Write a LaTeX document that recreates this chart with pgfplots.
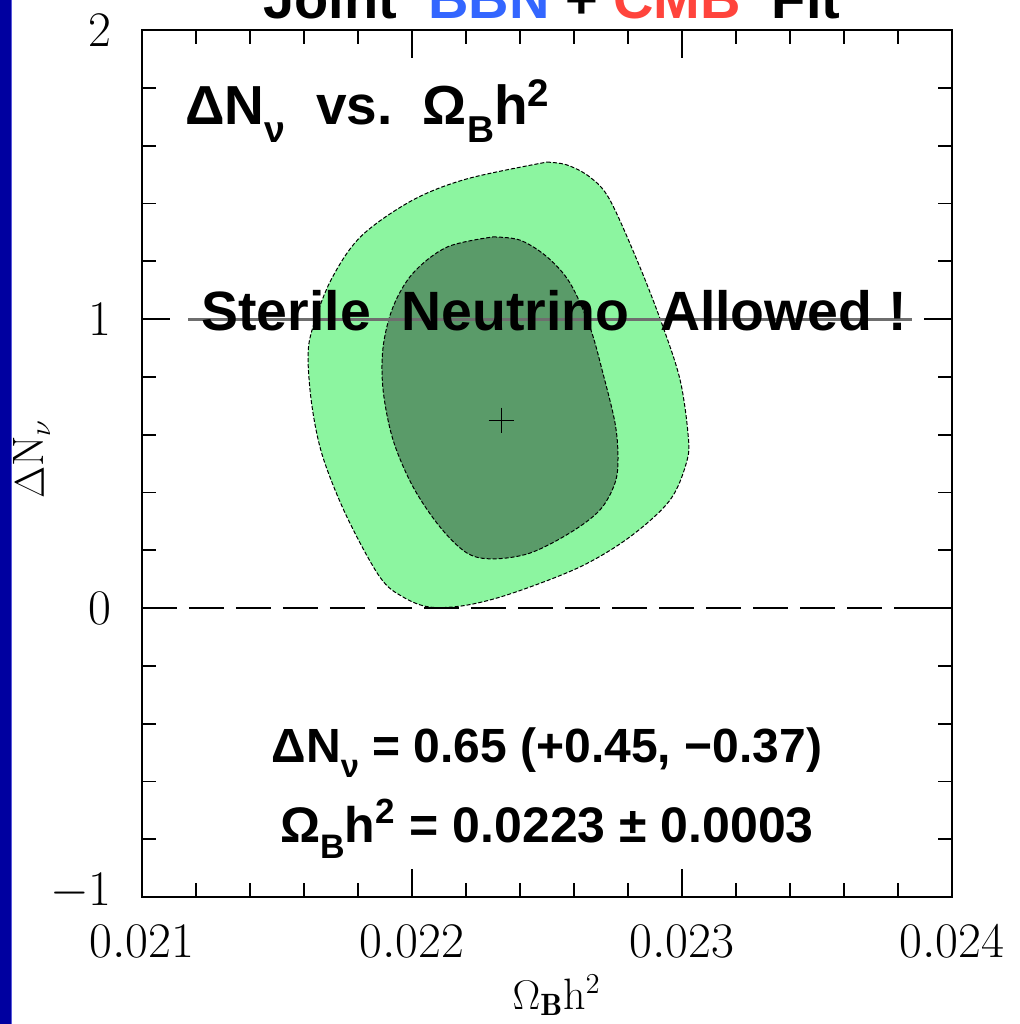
\documentclass[border=0pt]{standalone}
\usepackage{fontspec}
\usepackage{pgfplots}
\pgfplotsset{compat=1.18}
\newfontfamily\ab{Liberation Sans}
\definecolor{outerg}{RGB}{140,245,160}
\definecolor{innerg}{RGB}{90,155,105}
\definecolor{bbnblue}{RGB}{51,102,255}
\definecolor{cmbred}{RGB}{255,68,60}
\definecolor{slideblue}{RGB}{0,0,160}
\definecolor{slideedge}{RGB}{90,90,220}
\definecolor{linegray}{RGB}{110,110,110}
\newcommand{\lsub}[1]{\raisebox{-0.32em}{\fontsize{0.68\dimexpr\fontdimen6\font\relax}{1em}\selectfont #1}}
\begin{document}
\begin{tikzpicture}
\begin{axis}[
  scale only axis, width=405pt, height=433.5pt,
  xmin=0.021, xmax=0.024, ymin=-1, ymax=2,
  xtick={0.021,0.022,0.023,0.024}, ytick={-1,0,1,2},
  yticklabels={\raisebox{8pt}{$-1$},$0$,$1$,$2$},
  minor x tick num=4, minor y tick num=4,
  tick align=inside,
  major tick length=14pt, minor tick length=7pt,
  every tick/.style={black, line width=0.9pt},
  axis line style={line width=0.9pt},
  scaled x ticks=false,
  x tick label style={/pgf/number format/fixed, /pgf/number format/precision=3, /pgf/number format/fixed zerofill},
  tick label style={font=\fontsize{26}{30}\selectfont},
  xticklabel style={inner sep=0pt, yshift=-14pt},
  yticklabel style={inner sep=0pt, xshift=-15pt},
  xlabel={$\Omega_{\mathbf B}\mathrm{h}^2$},
  xlabel style={at={(axis description cs:0.512,0)}, anchor=base, yshift=-56pt, font=\fontsize{22}{24}\selectfont},
  ylabel={$\Delta\mathrm{N}_\nu$},
  ylabel style={at={(axis description cs:-0.1358,0.505)}, anchor=center, font=\fontsize{22}{24}\selectfont},
  clip=false,
]
% outer contour
\addplot[fill=outerg, draw=black, line width=0.5pt, dash pattern=on 2pt off 1pt, smooth, tension=0.55] coordinates {
(0.022500,1.543) (0.022574,1.533) (0.022659,1.491) (0.022733,1.412) (0.022844,1.180)
(0.022930,0.972) (0.022993,0.789) (0.023022,0.606) (0.023019,0.512) (0.022956,0.374)
(0.022807,0.246) (0.022622,0.142) (0.022374,0.052) (0.022204,0.010) (0.022067,0.003)
(0.021967,0.038) (0.021881,0.107) (0.021759,0.315) (0.021670,0.522) (0.021630,0.696)
(0.021615,0.869) (0.021633,0.972) (0.021700,1.135) (0.021810,1.285) (0.022000,1.410)
(0.022204,1.485) (0.022500,1.543)};
% inner contour
\addplot[fill=innerg, draw=black, line width=0.5pt, dash pattern=on 2pt off 1pt, smooth, tension=0.55] coordinates {
(0.022300,1.284) (0.022400,1.273) (0.022500,1.215) (0.022585,1.125) (0.022659,0.972)
(0.022707,0.813) (0.022752,0.640) (0.022763,0.522) (0.022752,0.433) (0.022696,0.339)
(0.022585,0.260) (0.022437,0.190) (0.022300,0.170) (0.022204,0.190) (0.022104,0.280)
(0.022004,0.419) (0.021930,0.581) (0.021893,0.754) (0.021893,0.903) (0.021930,1.042)
(0.022004,1.159) (0.022130,1.249) (0.022300,1.284)};
% best fit
\addplot[only marks, mark=+, mark size=6.25pt, black, line width=0.5pt] coordinates {(0.02233,0.65)};
% dashed zero line
\addplot[black, line width=1.3pt, dash pattern=on 17.5pt off 6pt] coordinates {(0.021,0) (0.024,0)};
% gray line at 1
\addplot[linegray, line width=1.5pt] coordinates {(0.0211704,1) (0.0238519,1)};
% texts
\node[anchor=base west, font=\ab\bfseries\fontsize{27.5}{30}\selectfont, inner sep=0pt] at (axis cs:0.0211593,1.6713)
  {ΔN\lsub{ν}\ \ vs.\ \ Ω\lsub{B}h\textsuperscript{2}};
\node[anchor=base, font=\ab\bfseries\fontsize{27.7}{30}\selectfont, inner sep=0pt] at (axis cs:0.0225259,0.9619)
  {Sterile\ \ Neutrino\ \ Allowed !};
\node[anchor=base, font=\ab\bfseries\fontsize{24}{28}\selectfont, inner sep=0pt] at (axis cs:0.0225,-0.5329)
  {ΔN\lsub{ν} = 0.65 (+0.45, −0.37)};
\node[anchor=base, font=\ab\bfseries\fontsize{25}{28}\selectfont, inner sep=0pt] at (axis cs:0.0225,-0.8097)
  {Ω\lsub{B}h\textsuperscript{2} = 0.0223 ± 0.0003};
\node[anchor=base, font=\ab\bfseries\fontsize{28}{30}\selectfont, inner sep=0pt] at (axis description cs:0.506,1) [yshift=6pt]
  {Joint\ \ \textcolor{bbnblue}{BBN} + \textcolor{cmbred}{CMB}\ \ Fit};
\end{axis}
\fill[slideblue] (-71pt,-63.5pt) rectangle (-65.5pt,448.5pt);
\fill[slideedge] (-65.5pt,-63.5pt) rectangle (-65pt,448.5pt);
\pgfresetboundingbox
\path[use as bounding box] (-71pt,-63.5pt) rectangle (439pt,448.5pt);
\end{tikzpicture}
\end{document}
